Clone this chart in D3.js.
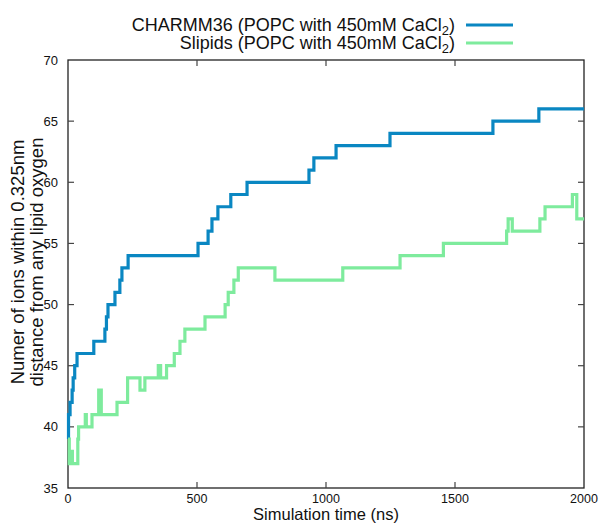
<!DOCTYPE html>
<html>
<head>
<meta charset="utf-8">
<script src="https://cdn.jsdelivr.net/npm/d3@7"></script>
<style>
  html, body { margin: 0; padding: 0; background: #fff; }
  svg { display: block; font-family: "Liberation Sans", Arial, sans-serif; }
</style>
</head>
<body>
<svg id="chart" width="600" height="523"></svg>
<script>
// ---- data ----
const charmmTime = [0, 2, 8, 16, 20, 26, 35, 100, 143, 149, 155, 182, 201, 209, 233, 504, 543, 558, 581, 631, 694, 934, 953, 1039, 1248, 1647, 1825, 2000];
const charmmIons = [39, 41, 42, 43, 44, 45, 46, 47, 48, 49, 50, 51, 52, 53, 54, 55, 56, 57, 58, 59, 60, 61, 62, 63, 64, 65, 66, 66];

const slipidsTime = [0, 5, 13, 17, 38, 41, 67, 71, 93, 119, 129, 190, 231, 279, 298, 350, 359, 382, 412, 434, 453, 531, 609, 621, 643, 660, 802, 1065, 1287, 1455, 1700, 1706, 1722, 1829, 1849, 1955, 1972, 2000];
const slipidsIons = [39, 37, 38, 37, 39, 40, 41, 40, 41, 43, 41, 42, 44, 43, 44, 45, 44, 45, 46, 47, 48, 49, 50, 51, 52, 53, 52, 53, 54, 55, 56, 57, 56, 57, 58, 59, 57, 57];

const xTicks = [0, 500, 1000, 1500, 2000];
const yTicks = [35, 40, 45, 50, 55, 60, 65, 70];

const seriesNames = ["CHARMM36 (POPC with 450mM CaCl", "Slipids (POPC with 450mM CaCl"];
const seriesColors = ["#0a87c2", "#7eeb9d"];

// ---- layout ----
const svg = d3.select("#chart");
const L = 68, R = 584, T = 60, B = 488;
const x = d3.scaleLinear().domain([0, 2000]).range([L, R]);
const y = d3.scaleLinear().domain([35, 70]).range([B, T]);

const tickLen = 6;
const axisColor = "#222";

// frame
svg.append("rect").attr("x", L).attr("y", T).attr("width", R - L).attr("height", B - T)
  .attr("fill", "none").attr("stroke", axisColor).attr("stroke-width", 1.3);

// ticks (inward, mirrored)
const tg = svg.append("g").attr("stroke", "#444").attr("stroke-width", 1.2);
yTicks.forEach(v => {
  if (v === 35 || v === 70) return;
  tg.append("line").attr("x1", L).attr("x2", L + tickLen).attr("y1", y(v)).attr("y2", y(v));
  tg.append("line").attr("x1", R).attr("x2", R - tickLen).attr("y1", y(v)).attr("y2", y(v));
});
xTicks.forEach(v => {
  if (v === 0 || v === 2000) return;
  tg.append("line").attr("x1", x(v)).attr("x2", x(v)).attr("y1", B).attr("y2", B - tickLen);
  tg.append("line").attr("x1", x(v)).attr("x2", x(v)).attr("y1", T).attr("y2", T + tickLen);
});

// tick labels
svg.append("g").selectAll("text").data(yTicks).join("text")
  .attr("x", L - 10).attr("y", d => y(d) + 4.5)
  .attr("text-anchor", "end").attr("font-size", 13).attr("fill", "#111")
  .text(d => d);
svg.append("g").selectAll("text").data(xTicks).join("text")
  .attr("x", d => x(d)).attr("y", B + 15)
  .attr("text-anchor", "middle").attr("font-size", 12.5).attr("fill", "#111")
  .text(d => d);

// axis titles
svg.append("text").attr("x", (L + R) / 2).attr("y", 520)
  .attr("text-anchor", "middle").attr("font-size", 16.5).attr("fill", "#111")
  .text("Simulation time (ns)");
const yt = svg.append("text").attr("transform", "translate(0,262) rotate(-90)")
  .attr("text-anchor", "middle").attr("font-size", 18.5).attr("fill", "#111");
yt.append("tspan").attr("x", 0).attr("y", 24).text("Numer of ions within 0.325nm");
yt.append("tspan").attr("x", 0).attr("y", 43).text("distance from any lipid oxygen");

// lines
const line = d3.line().curve(d3.curveStepAfter).x(d => x(d[0])).y(d => y(d[1]));
const charmm = charmmTime.map((t, i) => [t, charmmIons[i]]);
const slipids = slipidsTime.map((t, i) => [t, slipidsIons[i]]);
svg.append("path").datum(charmm).attr("d", line)
  .attr("fill", "none").attr("stroke", seriesColors[0]).attr("stroke-width", 3.2);
svg.append("path").datum(slipids).attr("d", line)
  .attr("fill", "none").attr("stroke", seriesColors[1]).attr("stroke-width", 3.2);

// legend
const legY = [25, 43];
seriesNames.forEach((name, i) => {
  const t = svg.append("text").attr("x", 455).attr("y", legY[i] + 6)
    .attr("text-anchor", "end").attr("font-size", 18).attr("fill", "#111");
  t.append("tspan").text(name);
  t.append("tspan").attr("dy", 4).attr("font-size", 13).text("2");
  t.append("tspan").attr("dy", -4).text(")");
  svg.append("line").attr("x1", 466).attr("x2", 513).attr("y1", legY[i]).attr("y2", legY[i])
    .attr("stroke", seriesColors[i]).attr("stroke-width", 3.2);
});
</script>
</body>
</html>
